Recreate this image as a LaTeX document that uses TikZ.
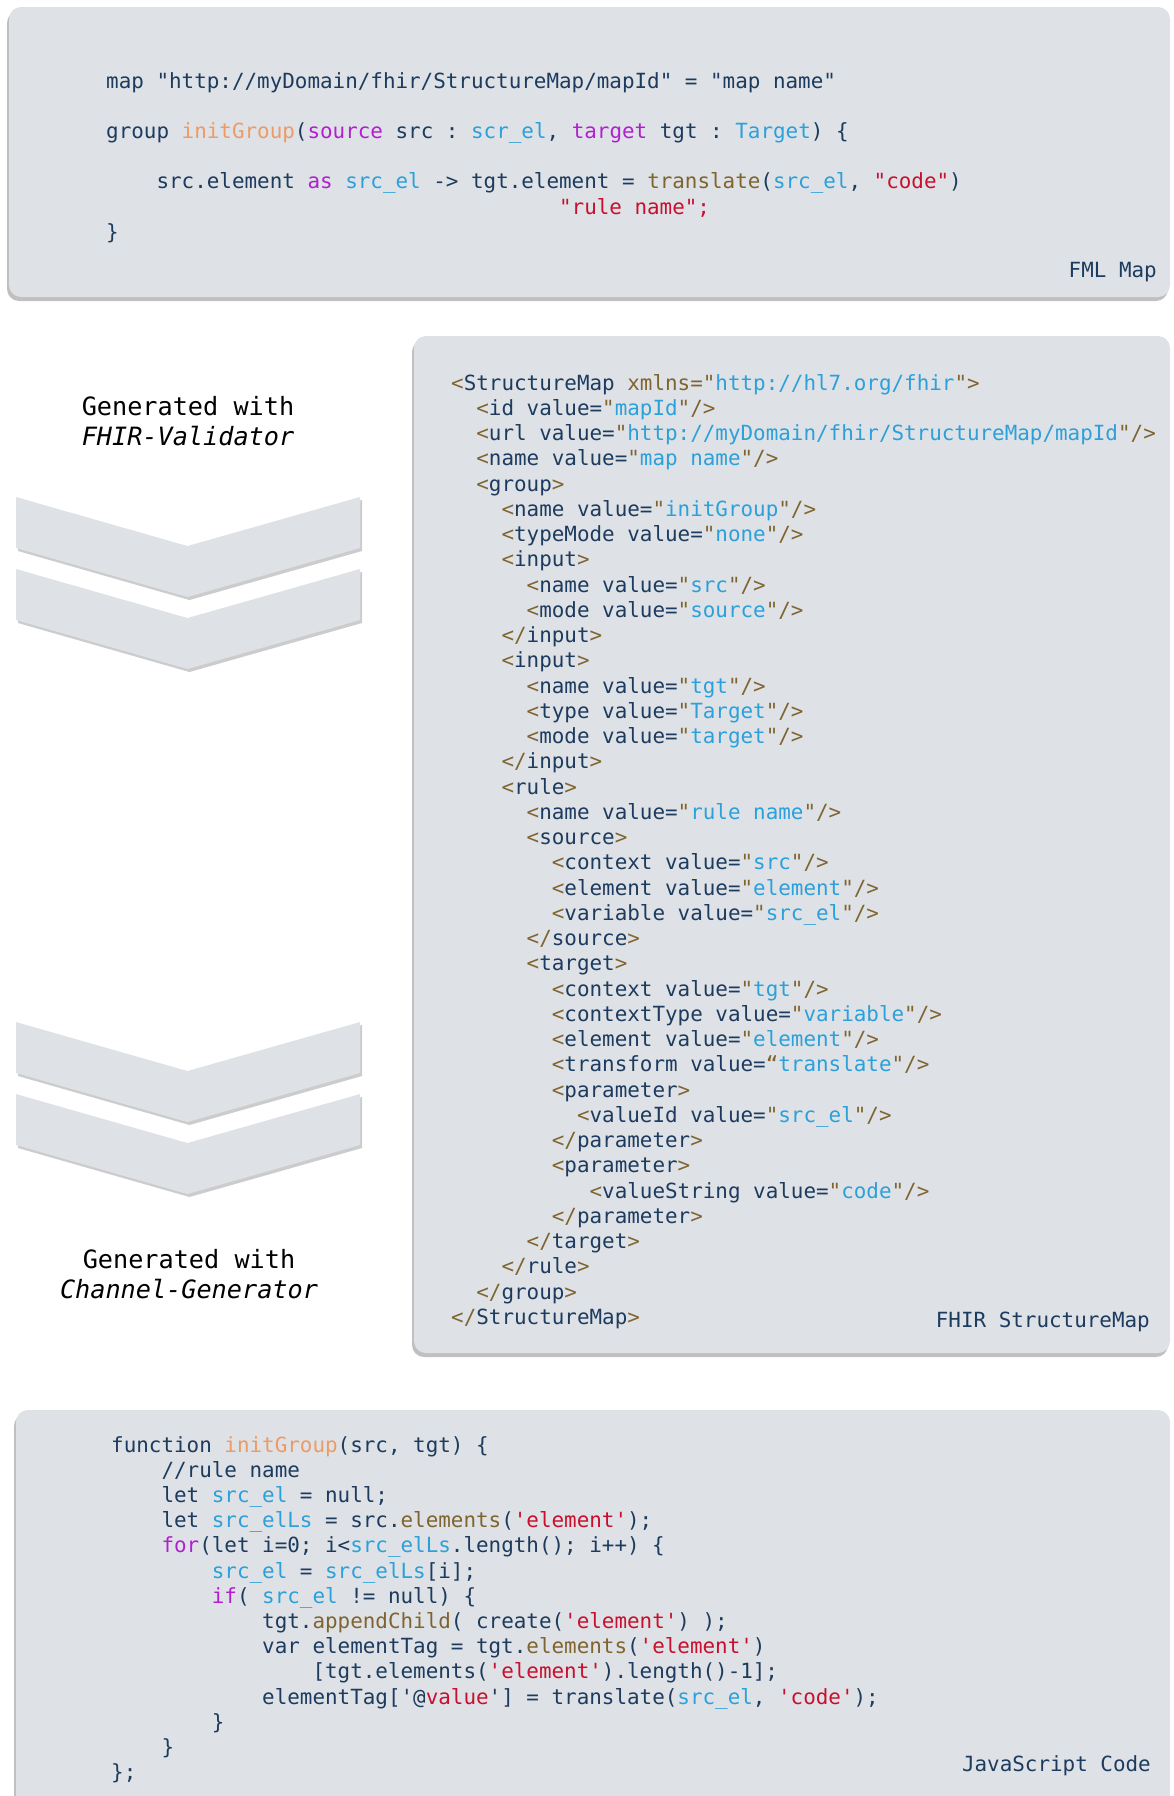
\documentclass[tikz,border=0pt]{standalone}
\usepackage{fontspec}
\setmonofont{DejaVu Sans Mono}
\usetikzlibrary{shadows}
\frenchspacing

\definecolor{codenavy}{HTML}{1D3B5E}
\definecolor{codeorange}{HTML}{EE9A66}
\definecolor{codemagenta}{HTML}{B21FCF}
\definecolor{codeblue}{HTML}{2BA0DA}
\definecolor{codebrown}{HTML}{7F6430}
\definecolor{codered}{HTML}{C8102E}
\definecolor{boxgray}{HTML}{DEE2E6}

\newcommand\cKw[1]{\textcolor{codemagenta}{#1}}
\newcommand\cFn[1]{\textcolor{codeorange}{#1}}
\newcommand\cVar[1]{\textcolor{codeblue}{#1}}
\newcommand\cMeth[1]{\textcolor{codebrown}{#1}}
\newcommand\cStr[1]{\textcolor{codered}{#1}}

\newcommand\xt{\cMeth{<}}
\newcommand\xo[1]{\cMeth{<}#1\cMeth{>}}
\newcommand\xc[1]{\cMeth{</}#1\cMeth{>}}
\newcommand\xv[1]{value=\cMeth{"}\cVar{#1}\cMeth{"/>}}

\tikzset{
  codebox/.style={fill=boxgray, rounded corners=12pt,
    drop shadow={shadow xshift=-2pt, shadow yshift=-4pt, opacity=.45, fill=black!55}},
  chevron/.style={fill=boxgray,
    drop shadow={shadow xshift=2pt, shadow yshift=-3pt, opacity=.4, fill=black!50}},
  code/.style={anchor=base west, inner sep=0pt, text=codenavy,
    font=\ttfamily\fontsize{20.9}{25.2}\selectfont},
  boxlabel/.style={code, anchor=base east},
  gentext/.style={anchor=base, inner sep=0pt, text=black,
    font=\ttfamily\fontsize{25.2}{30}\selectfont},
}

\begin{document}
\begin{tikzpicture}[x=1pt,y=-1pt]
\useasboundingbox (0,0) rectangle (1173,1796);

\path[codebox] (9,7) rectangle (1170,297);
\path[codebox] (414,336) rectangle (1170,1353);
\path[codebox] (16,1410) rectangle (1170,1840);

\foreach \ytop in {497,569,1022,1094}
  \path[chevron] (16,\ytop) -- (187.5,\ytop+49) -- (360,\ytop) -- (360,\ytop+51)
    -- (187.5,\ytop+100) -- (16,\ytop+51) -- cycle;

% FML map
\node[code] (fmlmap) at (106,88) {map "http://myDomain/fhir/StructureMap/mapId" = "map name"};
\node[code] (fmlgroup) at (106,138.4) {group \cFn{initGroup}(\cKw{source} src : \cVar{scr\_el}, \cKw{target} tgt : \cVar{Target}) \{};
\node[code] (fmlrule) at (106+4*12.58,188.8) {src.element \cKw{as} \cVar{src\_el} -> tgt.element = \cMeth{translate}(\cVar{src\_el}, \cStr{"code"})};
\node[code] (fmlname) at (106+36*12.58,214) {\cStr{"rule name";}};
\node[code] (fmlend) at (106,239.2) {\}};
\node[boxlabel] (fmllabel) at (1157,277) {FML Map};

% StructureMap
\foreach \ln [count=\i from 0] in {
  {\cMeth{<}StructureMap \cMeth{xmlns="}\cVar{http://hl7.org/fhir}\cMeth{">}},
  {~~\xt id \xv{mapId}},
  {~~\xt url \xv{http://myDomain/fhir/StructureMap/mapId}},
  {~~\xt name \xv{map name}},
  {~~\xo{group}},
  {~~~~\xt name \xv{initGroup}},
  {~~~~\xt typeMode \xv{none}},
  {~~~~\xo{input}},
  {~~~~~~\xt name \xv{src}},
  {~~~~~~\xt mode \xv{source}},
  {~~~~\xc{input}},
  {~~~~\xo{input}},
  {~~~~~~\xt name \xv{tgt}},
  {~~~~~~\xt type \xv{Target}},
  {~~~~~~\xt mode \xv{target}},
  {~~~~\xc{input}},
  {~~~~\xo{rule}},
  {~~~~~~\xt name \xv{rule name}},
  {~~~~~~\xo{source}},
  {~~~~~~~~\xt context \xv{src}},
  {~~~~~~~~\xt element \xv{element}},
  {~~~~~~~~\xt variable \xv{src\_el}},
  {~~~~~~\xc{source}},
  {~~~~~~\xo{target}},
  {~~~~~~~~\xt context \xv{tgt}},
  {~~~~~~~~\xt contextType \xv{variable}},
  {~~~~~~~~\xt element \xv{element}},
  {~~~~~~~~\xt transform value=\cMeth{“}\cVar{translate}\cMeth{"/>}},
  {~~~~~~~~\xo{parameter}},
  {~~~~~~~~~~\xt valueId \xv{src\_el}},
  {~~~~~~~~\xc{parameter}},
  {~~~~~~~~\xo{parameter}},
  {~~~~~~~~~~~\xt valueString \xv{code}},
  {~~~~~~~~\xc{parameter}},
  {~~~~~~\xc{target}},
  {~~~~\xc{rule}},
  {~~\xc{group}},
  {\xc{StructureMap}}}
  \node[code] (xml\i) at (451,390+25.25*\i) {\ln};
\node[boxlabel] (xmllabel) at (1150,1327) {FHIR StructureMap};

% JavaScript
\foreach \ln [count=\i from 0] in {
  {function \cFn{initGroup}(src, tgt) \{},
  {~~~~//rule name},
  {~~~~let \cVar{src\_el} = null;},
  {~~~~let \cVar{src\_elLs} = src.\cMeth{elements}(\cStr{'element'});},
  {~~~~\cKw{for}(let i=0; i<\cVar{src\_elLs}.length(); i++) \{},
  {~~~~~~~~\cVar{src\_el} = \cVar{src\_elLs}[i];},
  {~~~~~~~~\cKw{if}( \cVar{src\_el} != null) \{},
  {~~~~~~~~~~~~tgt.\cMeth{appendChild}( create(\cStr{'element'}) );},
  {~~~~~~~~~~~~var elementTag = tgt.\cMeth{elements}(\cStr{'element'})},
  {~~~~~~~~~~~~~~~~[tgt.elements(\cStr{'element'}).length()-1];},
  {~~~~~~~~~~~~elementTag['@\cStr{value}'] = translate(\cVar{src\_el}, \cStr{'code'});},
  {~~~~~~~~\}},
  {~~~~\}},
  {\};}}
  \node[code] (js\i) at (111,1452+25.2*\i) {\ln};
\node[boxlabel] (jslabel) at (1151,1771) {JavaScript Code};

\node[gentext] (valgen) at (188,415) {Generated with};
\node[gentext] (valtool) at (188,445) {\itshape FHIR-Validator};
\node[gentext] (chgen) at (189,1268) {Generated with};
\node[gentext] (chtool) at (189,1298) {\itshape Channel-Generator};

\end{tikzpicture}
\end{document}
